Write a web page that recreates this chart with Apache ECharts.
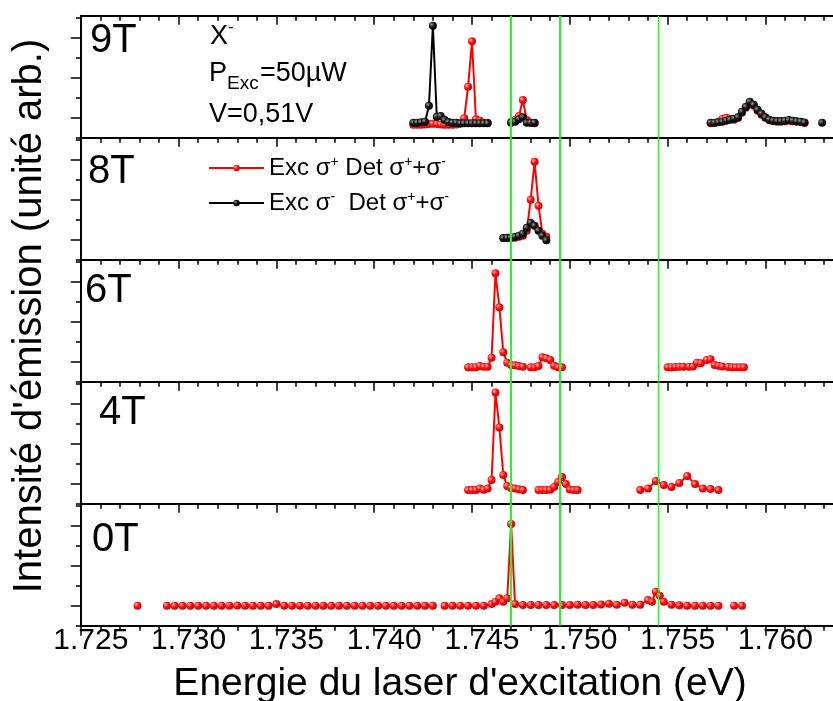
<!DOCTYPE html>
<html><head><meta charset="utf-8">
<script src="https://cdn.jsdelivr.net/npm/echarts@6/dist/echarts.min.js"></script>
<style>html,body{margin:0;padding:0;background:#fff}#c{width:833px;height:701px}</style>
</head><body><div id="c"></div>
<script>
// ---------------- data (null = break between scans) ----------------
const panelLabels = ['9T', '8T', '6T', '4T', '0T'];
const NAME_RED = 'Exc σ+ Det σ++σ-';
const NAME_BLACK = 'Exc σ-  Det σ++σ-';
const greenLines = [1.7470, 1.7495, 1.7545];

const x9T_red = [1.7420,1.7422,1.7424,1.7426,1.7428,1.7430,1.7432,1.7434,1.7436,1.7438,1.7440,1.7442,1.7444,1.7446,1.7448,1.7450,1.7452,1.7454,1.7456,1.7458, null,
  1.7470,1.7472,1.7474,1.7476,1.7478,1.7480,1.7482, null,
  1.7572,1.7574,1.7576,1.7578,1.7580,1.7582,1.7584,1.7586,1.7588,1.7590,1.7592,1.7594,1.7596,1.7598,1.7600,1.7602,1.7604,1.7606,1.7608,1.7610,1.7612,1.7614,1.7616,1.7618,1.7620];
const y9T_red = [0.65,0.65,0.65,0.66,0.68,0.70,0.68,0.66,0.65,0.65,0.65,0.66,0.70,0.97,2.55,4.82,0.92,0.85,0.75,0.75, null,
  0.80,0.88,1.08,1.88,0.88,0.75,0.72, null,
  0.72,0.74,0.80,0.95,1.00,0.95,0.90,0.98,1.25,1.50,1.75,1.60,1.35,1.15,1.00,0.87,0.82,0.80,0.80,0.82,0.85,0.82,0.80,0.78,0.74];
const x9T_black = [1.7420,1.7422,1.7424,1.7426,1.7428,1.7430,1.7432,1.7434,1.7436,1.7438,1.7440,1.7442,1.7444,1.7446,1.7448,1.7450,1.7452,1.7454,1.7456,1.7458, null,
  1.7470,1.7472,1.7474,1.7476,1.7478,1.7480,1.7482, null,
  1.7572,1.7574,1.7576,1.7578,1.7580,1.7582,1.7584,1.7586,1.7588,1.7590,1.7592,1.7594,1.7596,1.7598,1.7600,1.7602,1.7604,1.7606,1.7608,1.7610,1.7612,1.7614,1.7616,1.7618,1.7620, null,
  1.7629];
const y9T_black = [0.75,0.75,0.77,0.80,1.60,5.60,1.05,1.08,0.88,0.78,0.75,0.75,0.72,0.72,0.72,0.72,0.72,0.72,0.72,0.72, null,
  0.75,0.80,0.92,1.02,0.75,0.75,0.75, null,
  0.75,0.75,0.77,0.80,0.85,0.90,0.95,1.02,1.30,1.55,1.80,1.65,1.40,1.20,1.02,0.90,0.85,0.83,0.83,0.85,0.88,0.85,0.82,0.80,0.76, null,
  0.75];

const x8T = [1.7466,1.7468,1.7470,1.7472,1.7474,1.7476,1.7478,1.7480,1.7482,1.7484,1.7486,1.7488];
const y8T_red = [1.08,1.08,1.10,1.10,1.15,1.20,1.45,3.00,4.90,2.70,1.30,1.15];
const y8T_black = [1.08,1.10,1.10,1.15,1.20,1.30,1.60,1.85,1.70,1.45,1.20,0.97];

const x6T = [1.7448,1.7450,1.7452,1.7454,1.7456,1.7458,1.7460,1.7462,1.7464,1.7466,1.7468,1.7470,1.7472,1.7474,1.7476, null,
  1.7480,1.7482,1.7484,1.7486,1.7488,1.7490,1.7492,1.7494,1.7496, null,
  1.7550,1.7552,1.7554,1.7556,1.7558,1.7561,1.7563,1.7565,1.7567,1.7570,1.7572,1.7574,1.7576,1.7578,1.7581,1.7583,1.7585,1.7587,1.7589];
const y6T = [0.72,0.72,0.72,0.78,0.75,0.75,1.20,5.42,3.72,1.47,0.95,0.84,0.82,0.78,0.75, null,
  0.72,0.72,0.78,1.22,1.17,1.09,0.80,0.72,0.72, null,
  0.72,0.72,0.74,0.75,0.75,0.75,0.76,0.95,0.92,1.09,1.12,0.84,0.80,0.76,0.74,0.72,0.72,0.72,0.72];

const x4T = [1.7448,1.7450,1.7452,1.7454,1.7456,1.7458,1.7460,1.7462,1.7464,1.7466,1.7468,1.7470,1.7472,1.7474,1.7476, null,
  1.7484,1.7486,1.7488,1.7490,1.7492,1.7494,1.7496,1.7498,1.7500,1.7502,1.7504, null,
  1.7536,1.7540,1.7544,1.7548,1.7552,1.7556,1.7560,1.7564,1.7568,1.7572,1.7576];
const y4T = [0.68,0.68,0.68,0.76,0.70,0.76,1.18,5.56,3.81,1.43,0.88,0.79,0.76,0.72,0.68, null,
  0.68,0.68,0.68,0.70,0.84,1.09,1.34,0.98,0.71,0.68,0.68, null,
  0.68,0.76,1.14,0.93,0.84,1.04,1.39,0.98,0.76,0.73,0.68];

const x0T = [1.7279, null,
  1.7294,1.7298,1.7302,1.7306,1.7310,1.7314,1.7318,1.7322,1.7326,1.7330,1.7334,1.7338,1.7342,1.7346,1.7350,1.7354,1.7358,1.7362,1.7366,1.7370,1.7374,1.7378,1.7382,1.7386,1.7390,1.7394,1.7398,1.7402,1.7406,1.7410,1.7414,1.7418,1.7422,1.7426,1.7430, null,
  1.7436,1.7440,1.7444,1.7448,1.7452,1.7456,1.7460,1.7462,1.7464,1.7466,1.7468,1.7470,1.7472,1.7476,1.7480,1.7484,1.7488,1.7492,1.7496,1.7500,1.7504,1.7508,1.7512,1.7516,1.7520,1.7524,1.7528,1.7532,1.7536,1.7540,1.7542,1.7544,1.7546,1.7548,1.7552,1.7556,1.7560,1.7564,1.7568,1.7572,1.7576, null,
  1.7584,1.7588];
const y0T = [1.00, null,
  1.00,1.00,1.00,1.00,1.00,1.00,1.00,1.00,1.00,1.01,1.00,1.00,1.00,1.00,1.08,1.00,1.00,1.00,1.00,1.00,1.00,1.00,1.00,1.00,1.00,1.00,1.00,1.00,1.00,1.00,1.00,1.00,1.00,1.00,1.00, null,
  1.00,1.00,1.00,1.00,1.00,1.00,1.08,1.20,1.37,1.20,1.37,5.09,1.08,1.03,1.03,1.03,1.03,1.03,1.03,1.03,1.05,1.03,1.03,1.06,1.10,1.05,1.15,1.05,1.05,1.28,1.20,1.70,1.50,1.20,1.05,1.02,1.00,1.00,1.00,1.00,1.00, null,
  1.00,1.00];

// ---------------- chart ----------------
const FONT = '"Liberation Sans", Arial, Helvetica, sans-serif';
const xMin = 1.725, xMax = 1.765, xStep = 0.005;
const yMax = 6.1;
const yLongTicks = [1, 3, 5], yShortTicks = [0, 2, 4, 6];
const GRID_LEFT = 80.8, GRID_TOP = 15.7, GRID_H = 122, GRID_W = 782.4;

function pts(xs, ys) { return xs.map((x, i) => x === null ? ['-', '-'] : [x, ys[i]]); }
function ball(light, mid, dark) {
  return { type: 'radial', x: 0.35, y: 0.35, r: 0.7,
    colorStops: [{ offset: 0, color: light }, { offset: 0.45, color: mid }, { offset: 1, color: dark }] };
}
const RED_BALL = ball('#ffb8b8', '#ff1010', '#c80000');
const BLACK_BALL = ball('#9a9a9a', '#151515', '#000000');

const panelSeries = [
  [[x9T_red, y9T_red, 'r'], [x9T_black, y9T_black, 'k']],
  [[x8T, y8T_red, 'r'], [x8T, y8T_black, 'k']],
  [[x6T, y6T, 'r']],
  [[x4T, y4T, 'r']],
  [[x0T, y0T, 'r']]
];

const grids = [], xAxes = [], yAxes = [], series = [];
const tickStyle = { color: '#000', width: 1.5 };
const guideLines = {
  symbol: ['none', 'none'], silent: true, animation: false, label: { show: false },
  precision: 5, emphasis: { disabled: true },
  data: greenLines.map((v, k) => ({ xAxis: v, lineStyle: { color: '#3ae83a', width: k === 2 ? 1.4 : 2.2, type: 'solid' } }))
};
panelLabels.forEach((lab, i) => {
  grids.push({ left: GRID_LEFT, top: GRID_TOP + GRID_H * i, height: GRID_H, width: GRID_W,
    containLabel: false, outerBoundsMode: 'none' });
  xAxes.push({
    gridIndex: i, type: 'value', position: 'top', min: xMin, max: xMax, interval: xStep,
    axisLine: { onZero: false, lineStyle: { color: '#000', width: 2 } },
    axisTick: { inside: true, length: 9, lineStyle: tickStyle },
    minorTick: { show: true, splitNumber: 5, length: 5, lineStyle: tickStyle },
    axisLabel: { show: false }, splitLine: { show: false }
  });
  yAxes.push({
    gridIndex: i, type: 'value', min: 0, max: yMax,
    axisLine: { show: true, onZero: false, lineStyle: { color: '#000', width: 2 } },
    axisTick: { show: true, length: 10, lineStyle: tickStyle, customValues: yLongTicks },
    axisLabel: { show: false }, splitLine: { show: false }
  });
  yAxes.push({
    gridIndex: i, type: 'value', min: 0, max: yMax, position: 'left',
    axisLine: { show: false },
    axisTick: { show: true, length: 5, lineStyle: tickStyle, customValues: yShortTicks },
    axisLabel: { show: false }, splitLine: { show: false }
  });
  panelSeries[i].forEach(([xs, ys, c], j) => {
    const red = c === 'r';
    const s = {
      type: 'line', name: red ? NAME_RED : NAME_BLACK, xAxisIndex: i, yAxisIndex: 2 * i,
      data: pts(xs, ys), connectNulls: false, symbol: 'circle', symbolSize: 8,
      lineStyle: { color: red ? '#ff0000' : '#000000', width: 2 },
      itemStyle: { color: red ? RED_BALL : BLACK_BALL },
      z: red ? 3 : 4, animation: false
    };
    if (j === 0) s.markLine = guideLines;
    series.push(s);
  });
});
// bottom axis with labels
xAxes.push({
  gridIndex: 4, type: 'value', position: 'bottom', min: xMin, max: xMax, interval: xStep,
  axisLine: { onZero: false, lineStyle: { color: '#000', width: 2 } },
  axisTick: { inside: false, length: 10, lineStyle: tickStyle },
  minorTick: { show: true, splitNumber: 5, length: 5, lineStyle: tickStyle },
  axisLabel: { show: true, color: '#000', fontSize: 30, fontFamily: FONT, margin: 0, padding: [0, 0, 0, 20],
    formatter: v => v.toFixed(3) },
  splitLine: { show: false },
  name: "Energie du laser d'excitation (eV)", nameLocation: 'middle', nameGap: 39,
  nameTextStyle: { color: '#000', fontSize: 39, fontFamily: FONT, padding: [0, 24, 0, 0] }
});

const t = (text, x, y, size, extra) => Object.assign({
  type: 'text', x: x, y: y, silent: true,
  style: { text: text, fill: '#000', font: size + 'px ' + FONT, align: 'left', verticalAlign: 'middle' }
}, extra || {});

const graphics = [
  t('Intensité d\'émission (unité arb.)', 30, 316, 40, { rotation: Math.PI / 2 }),
  t(panelLabels[0], 90, 41, 40), t(panelLabels[1], 88, 171.5, 40), t(panelLabels[2], 85, 291, 40),
  t(panelLabels[3], 99, 413, 40), t(panelLabels[4], 92, 540, 40),
  t('X', 210, 36.7, 27), t('-', 228, 27, 17),
  t('P', 209, 74, 27), t('Exc', 227, 84, 19), t('=50µW', 260, 74, 27),
  t('V=0,51V', 209, 115, 27)
];
graphics[0].style.align = 'center';

const legendText = {};
legendText[NAME_RED] = 'Exc σ{sup|+} Det σ{sup|+}+σ{sup|-}';
legendText[NAME_BLACK] = 'Exc σ{sup|-}  Det σ{sup|+}+σ{sup|-}';

const chart = echarts.init(document.getElementById('c'), null, { renderer: 'canvas' });
chart.setOption({
  backgroundColor: '#fff',
  animation: false,
  grid: grids, xAxis: xAxes, yAxis: yAxes, series: series,
  legend: {
    data: [NAME_RED, NAME_BLACK], orient: 'vertical', left: 203, top: 150, padding: 5,
    itemWidth: 55, itemHeight: 8, itemGap: 9, selectedMode: false,
    formatter: n => legendText[n],
    textStyle: { color: '#000', fontSize: 24, fontFamily: FONT, lineHeight: 26,
      rich: { sup: { fontSize: 14, fontFamily: FONT, color: '#000', verticalAlign: 'top', lineHeight: 8 } } }
  },
  graphic: graphics
});
</script></body></html>
